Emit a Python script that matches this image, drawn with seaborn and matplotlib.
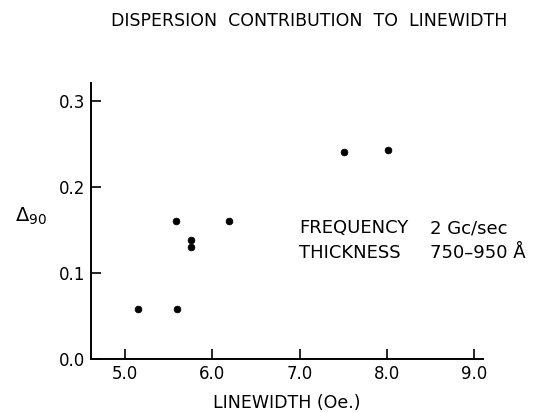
import matplotlib
matplotlib.use("Agg")
import matplotlib.pyplot as plt
import seaborn as sns
import pandas as pd

linewidth = [5.15, 5.59, 5.60, 5.76, 5.76, 6.19, 7.51, 8.01]
delta90 = [0.058, 0.160, 0.058, 0.138, 0.130, 0.160, 0.241, 0.243]
xticks = [5.0, 6.0, 7.0, 8.0, 9.0]
yticks = [0.0, 0.1, 0.2, 0.3]

sns.set_style("ticks")
plt.rcParams['font.family'] = ['DejaVu Sans']
plt.rcParams['text.color'] = 'black'
plt.rcParams['axes.labelcolor'] = 'black'

df = pd.DataFrame({"lw": linewidth, "d": delta90})
fig = plt.figure(figsize=(5.4, 4.13), dpi=100)
ax = fig.add_axes([0.1685, 0.1308, 0.894 - 0.1685, 0.799 - 0.1308])
sns.scatterplot(data=df, x="lw", y="d", ax=ax, color="black", s=24,
                edgecolor="black", linewidth=0.5, legend=False)
ax.set_xlim(4.61, 9.1)
ax.set_ylim(0, 0.321)
ax.set_xticks(xticks)
ax.set_xticklabels([f"{v:.1f}" for v in xticks])
ax.set_yticks(yticks)
ax.set_yticklabels([f"{v:.1f}" for v in yticks])
ax.tick_params(direction="in", length=7, width=1.2, labelsize=12, colors="black", pad=4)
for s in ["top", "right"]:
    ax.spines[s].set_visible(False)
for s in ["left", "bottom"]:
    ax.spines[s].set_linewidth(1.4)
    ax.spines[s].set_color("black")
ax.set_xlabel("LINEWIDTH (Oe.)", fontsize=12.5, labelpad=8, color="black")
ax.set_ylabel("")
fig.text(0.057, 0.475, r"$\Delta_{90}$", fontsize=14, ha="center", va="center")
fig.text(0.572, 0.948, "DISPERSION  CONTRIBUTION  TO  LINEWIDTH", fontsize=12.5,
         ha="center", va="center")
fs = 13
fig.text(0.554, 0.447, "FREQUENCY", fontsize=fs, va="center")
fig.text(0.796, 0.447, "2 Gc/sec", fontsize=fs, va="center")
fig.text(0.554, 0.387, "THICKNESS", fontsize=fs, va="center")
fig.text(0.796, 0.387, "750–950 Å", fontsize=fs, va="center")
fig.savefig("out.png", dpi=100)
